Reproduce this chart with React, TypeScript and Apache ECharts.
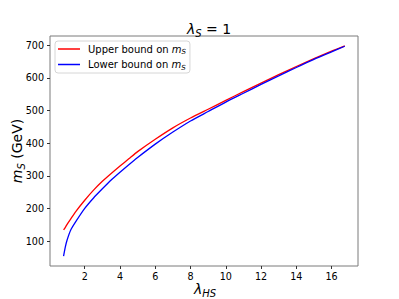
import React, { useEffect, useRef } from 'react';
import * as echarts from 'echarts';

const lambdaHS = [0.8, 0.9, 1.0, 1.2, 1.5, 2.0, 2.5, 3.0, 3.5, 4.0, 4.5, 5, 6, 7, 8, 9, 10, 11, 12, 13, 14, 15, 16, 16.75];
const upperBound = [134, 142, 151, 167, 191, 225, 256, 283, 307, 330, 352, 374, 412, 447, 477, 504, 531, 558, 584, 610, 635, 659, 682, 698];
const lowerBound = [54, 82, 103, 133, 160, 200, 232, 260, 287, 311, 334, 356, 397, 434, 468, 497, 526, 553, 580, 606, 632, 657, 680, 697];
const xTicks = [2, 4, 6, 8, 10, 12, 14, 16];
const yTicks = [100, 200, 300, 400, 500, 600, 700];
const seriesNames = ['Upper bound on m_S', 'Lower bound on m_S'];

const FONT = '"DejaVu Sans", sans-serif';

export default function App() {
  const ref = useRef<HTMLDivElement>(null);
  useEffect(() => {
    document.body.style.margin = '0';
    if (!ref.current) return;
    const chart = echarts.init(ref.current, null, { renderer: 'svg' });
    const mk = (size: number, lh: number, subSize: number, subLh: number) => ({
      n: { fontFamily: FONT, fontSize: size, fontWeight: 'normal', color: '#000', lineHeight: lh, verticalAlign: 'middle' },
      m: { fontFamily: FONT, fontSize: size, fontWeight: 'normal', fontStyle: 'italic', color: '#000', lineHeight: lh, verticalAlign: 'middle' },
      s: { fontFamily: FONT, fontSize: subSize, fontWeight: 'normal', fontStyle: 'italic', color: '#000', lineHeight: subLh, verticalAlign: 'bottom' },
    });
    const subRich = mk(10, 13, 7, 9);
    const bigRich = mk(14, 18, 10, 12);
    chart.setOption({
      animation: false,
      backgroundColor: '#fff',
      title: {
        text: '{m|λ}{s|S}{n| = 1}',
        left: 204,
        textAlign: 'center',
        top: 15,
        textStyle: { fontWeight: 'normal', rich: bigRich },
      },
      legend: {
        orient: 'vertical',
        left: 55,
        top: 41,
        padding: [3, 4, 2, 3],
        itemGap: 4,
        itemWidth: 22,
        itemHeight: 1.5,
        icon: 'rect',
        backgroundColor: 'rgba(255,255,255,0.8)',
        borderColor: '#cccccc',
        borderWidth: 0.8,
        borderRadius: 3,
        data: seriesNames,
        formatter: (name: string) => {
          const base = name.replace(' m_S', ' ');
          return `{n|${base}}{m|m}{s|S}`;
        },
        textStyle: { rich: subRich, padding: [0, 0, 0, 3] },
      },
      graphic: [
        {
          type: 'text',
          x: 17,
          y: 151,
          rotation: Math.PI / 2,
          style: {
            text: '{m|m}{s|S}{n| (GeV)}',
            rich: bigRich,
            align: 'center',
            verticalAlign: 'middle',
          },
        },
        {
          type: 'text',
          x: 205,
          y: 289,
          style: {
            text: '{m|λ}{s|HS}',
            rich: bigRich,
            align: 'center',
            verticalAlign: 'middle',
          },
        },
      ],
      grid: {
        left: 50,
        right: 41,
        top: 36,
        bottom: 33,
        outerBoundsMode: 'none',
        containLabel: false,
        show: true,
        borderColor: '#7a7a7a',
        borderWidth: 1,
        backgroundColor: 'transparent',
      },
      xAxis: {
        type: 'value',
        min: 0.03,
        max: 17.5,
        splitLine: { show: false },
        axisLine: { show: false },
        axisTick: { show: true, customValues: xTicks, length: 3, lineStyle: { color: '#333' } },
        axisLabel: {
          customValues: xTicks,
          margin: 5,
          fontFamily: FONT,
          fontSize: 9.6,
          color: '#000',
        },
      },
      yAxis: {
        type: 'value',
        min: 23.4,
        max: 728.5,
        splitLine: { show: false },
        axisLine: { show: false },
        axisTick: { show: true, customValues: yTicks, length: 3, lineStyle: { color: '#333' } },
        axisLabel: {
          customValues: yTicks,
          margin: 6,
          fontFamily: FONT,
          fontSize: 9.6,
          color: '#000',
        },
      },
      series: [
        {
          name: seriesNames[0],
          type: 'line',
          data: lambdaHS.map((x, i) => [x, upperBound[i]]),
          smooth: 0.2,
          symbol: 'none',
          lineStyle: { color: '#ff0000', width: 1.3 },
          itemStyle: { color: '#ff0000' },
        },
        {
          name: seriesNames[1],
          type: 'line',
          data: lambdaHS.map((x, i) => [x, lowerBound[i]]),
          smooth: 0.2,
          symbol: 'none',
          lineStyle: { color: '#0000ff', width: 1.3 },
          itemStyle: { color: '#0000ff' },
        },
      ],
    });
    return () => chart.dispose();
  }, []);
  return <div ref={ref} style={{ width: 399, height: 299 }} />;
}
